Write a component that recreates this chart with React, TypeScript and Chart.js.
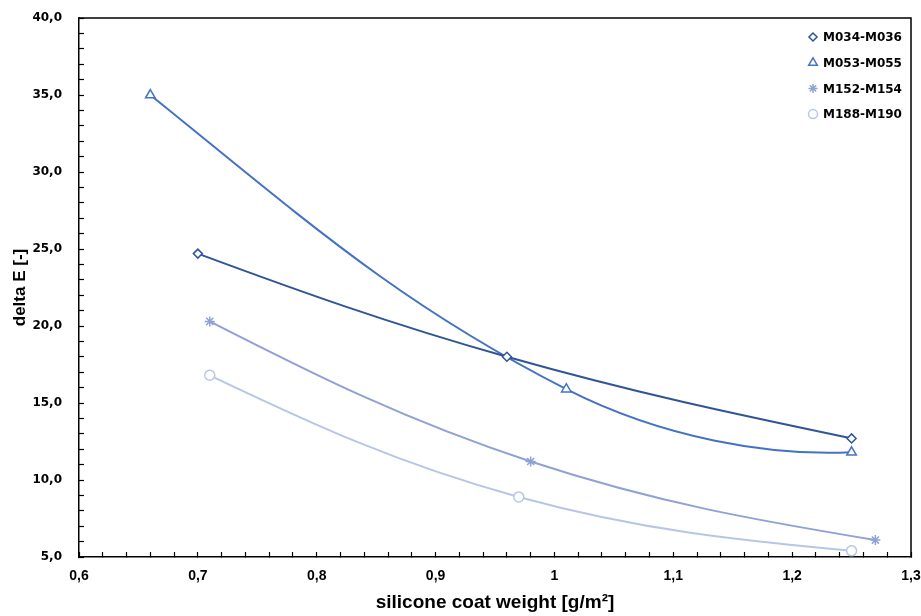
import React, { useEffect, useRef } from 'react';
import { Chart, registerables } from 'chart.js';
import { drawPoint } from 'chart.js/helpers';

Chart.register(...registerables);

// ---- data ----
const seriesNames = ['M034-M036', 'M053-M055', 'M152-M154', 'M188-M190'];
const x034 = [0.70, 0.96, 1.25];
const y034 = [24.7, 18.0, 12.7];
const x053 = [0.66, 1.01, 1.25];
const y053 = [35.0, 15.9, 11.8];
const x152 = [0.71, 0.98, 1.27];
const y152 = [20.3, 11.2, 6.1];
const x188 = [0.71, 0.97, 1.25];
const y188 = [16.8, 8.9, 5.4];

const xMin = 0.6;
const xMax = 1.3;
const xMinorStep = 0.02;
const xMajorStep = 0.1;
const yMin = 5;
const yMax = 40;
const yMinorStep = 1;
const yMajorStep = 5;

const xTitle = 'silicone coat weight [g/m²]';
const yTitle = 'delta E [-]';

// ---- styles ----
const colors = ['#2F5597', '#4472C4', '#8FA2D6', '#B8C6E6'];
const pointStyles = ['rectRot', 'triangle', 'star', 'circle'];
const pointRadii = [4.5, 5.5, 5, 5];

const toPts = (xs: number[], ys: number[]) => xs.map((x, i) => ({ x, y: ys[i] }));
const seriesData = [toPts(x034, y034), toPts(x053, y053), toPts(x152, y152), toPts(x188, y188)];

const isMultiple = (v: number, step: number) => Math.abs(v / step - Math.round(v / step)) < 1e-6;

// Office-style smoothing of the library's own line: adjust the bezier control points.
const SMOOTH_T = 0.38;
const END_CHORD_WEIGHT = 0.35;
const smoothPlugin = {
  id: 'officeSmooth',
  beforeDatasetDraw(chart: any, args: any) {
    const meta = args.meta;
    const line = meta.dataset;
    if (!line || !line.updateControlPoints) return;
    line.updateControlPoints(chart.chartArea, meta.iScale ? meta.iScale.axis : 'x');
    const p = meta.data;
    const n = p.length;
    if (n < 3) return;
    const t = SMOOTH_T;
    const w = END_CHORD_WEIGHT;
    for (let i = 1; i < n - 1; i++) {
      const d01 = Math.hypot(p[i].x - p[i - 1].x, p[i].y - p[i - 1].y);
      const d12 = Math.hypot(p[i + 1].x - p[i].x, p[i + 1].y - p[i].y);
      const fa = (t * d01) / (d01 + d12);
      const fb = (t * d12) / (d01 + d12);
      const dx = p[i + 1].x - p[i - 1].x;
      const dy = p[i + 1].y - p[i - 1].y;
      p[i].cp1x = p[i].x - fa * dx;
      p[i].cp1y = p[i].y - fa * dy;
      p[i].cp2x = p[i].x + fb * dx;
      p[i].cp2y = p[i].y + fb * dy;
    }
    {
      const px = (-3 * p[0].x + 4 * p[1].x - p[2].x) / 2;
      const py = (-3 * p[0].y + 4 * p[1].y - p[2].y) / 2;
      const cx = p[1].x - p[0].x;
      const cy = p[1].y - p[0].y;
      const tx = (1 - w) * px + w * cx;
      const ty = (1 - w) * py + w * cy;
      p[0].cp2x = p[0].x + tx / 3;
      p[0].cp2y = p[0].y + ty / 3;
      p[0].cp1x = p[0].x;
      p[0].cp1y = p[0].y;
    }
    {
      const L = n - 1;
      const px = (p[L - 2].x - 4 * p[L - 1].x + 3 * p[L].x) / 2;
      const py = (p[L - 2].y - 4 * p[L - 1].y + 3 * p[L].y) / 2;
      const cx = p[L].x - p[L - 1].x;
      const cy = p[L].y - p[L - 1].y;
      const tx = (1 - w) * px + w * cx;
      const ty = (1 - w) * py + w * cy;
      p[L].cp1x = p[L].x - tx / 3;
      p[L].cp1y = p[L].y - ty / 3;
      p[L].cp2x = p[L].x;
      p[L].cp2y = p[L].y;
    }
  },
};

const framePlugin = {
  id: 'frame',
  afterDraw(chart: any) {
    const { ctx, chartArea } = chart;
    ctx.save();
    ctx.strokeStyle = '#000';
    ctx.lineWidth = 1.5;
    ctx.beginPath();
    ctx.moveTo(chartArea.left, chartArea.top);
    ctx.lineTo(chartArea.right, chartArea.top);
    ctx.lineTo(chartArea.right, chartArea.bottom);
    ctx.stroke();
    ctx.restore();
  },
};

const legendPlugin = {
  id: 'insideLegend',
  afterDraw(chart: any) {
    const { ctx, chartArea } = chart;
    ctx.save();
    ctx.font = 'bold 12px "DejaVu Sans"';
    ctx.textBaseline = 'middle';
    ctx.textAlign = 'left';
    chart.data.datasets.forEach((ds: any, i: number) => {
      const y = chartArea.top + 19 + i * 25.7;
      const mx = chartArea.right - 98;
      ctx.fillStyle = '#fff';
      ctx.strokeStyle = ds.borderColor;
      ctx.lineWidth = 1.5;
      drawPoint(ctx, { pointStyle: ds.pointStyle, radius: ds.pointRadius * 0.9, borderWidth: 1.5, rotation: 0 } as any, mx, y);
      ctx.fillStyle = '#000';
      ctx.fillText(ds.label, mx + 10, y + 1);
    });
    ctx.restore();
  },
};

const zeroPadding = (s: any) => {
  s.paddingLeft = 0;
  s.paddingRight = 0;
  s.paddingTop = 0;
  s.paddingBottom = 0;
};

export default function App() {
  const ref = useRef<HTMLCanvasElement | null>(null);

  useEffect(() => {
    if (!ref.current) return;
    const chart = new Chart(ref.current, {
      type: 'line',
      data: {
        datasets: seriesNames.map((name, i) => ({
          label: name,
          data: seriesData[i],
          borderColor: colors[i],
          backgroundColor: '#fff',
          borderWidth: 2,
          pointStyle: pointStyles[i] as any,
          pointRadius: pointRadii[i],
          pointBorderWidth: 1.5,
          pointBackgroundColor: '#fff',
          pointBorderColor: colors[i],
          tension: 0.4,
          fill: false,
        })),
      },
      options: {
        animation: false,
        responsive: false,
        devicePixelRatio: 1,
        layout: { padding: { left: 0, right: 10, top: 18, bottom: 0 } },
        plugins: {
          legend: { display: false },
          tooltip: { enabled: false },
        },
        scales: {
          x: {
            type: 'linear',
            min: xMin,
            max: xMax,
            ticks: {
              stepSize: xMinorStep,
              autoSkip: false,
              maxRotation: 0,
              minRotation: 0,
              padding: 16,
              color: '#000',
              font: { family: '"Liberation Sans"', size: 14, weight: 'bold' },
              callback: (v: any) => (isMultiple(Number(v), xMajorStep) ? String(Math.round(Number(v) * 10) / 10).replace('.', ',') : ''),
            },
            grid: { display: true, drawOnChartArea: false, drawTicks: true, tickLength: -5, tickColor: '#000', tickWidth: 1.2 },
            border: { display: true, color: '#000', width: 1.5 },
            title: {
              display: true,
              text: xTitle,
              color: '#000',
              font: { family: '"Liberation Sans"', size: 19, weight: 'bold' },
              padding: { top: 0, bottom: 2 },
            },
            afterFit: (s: any) => {
              s.height = 59;
              zeroPadding(s);
            },
          },
          y: {
            type: 'linear',
            min: yMin,
            max: yMax,
            ticks: {
              stepSize: yMinorStep,
              autoSkip: false,
              padding: 22,
              color: '#000',
              font: { family: '"DejaVu Sans"', size: 12, weight: 'bold' },
              callback: (v: any) => (isMultiple(Number(v), yMajorStep) ? Number(v).toFixed(1).replace('.', ',') : ''),
            },
            grid: { display: true, drawOnChartArea: false, drawTicks: true, tickLength: -5, tickColor: '#000', tickWidth: 1.2 },
            border: { display: true, color: '#000', width: 1.5 },
            title: {
              display: true,
              text: yTitle,
              color: '#000',
              font: { family: '"Liberation Sans"', size: 17, weight: 'bold' },
              padding: { top: 10, bottom: 0 },
            },
            afterFit: (s: any) => {
              s.width = 79;
              zeroPadding(s);
            },
          },
        },
      },
      plugins: [smoothPlugin, framePlugin, legendPlugin],
    });
    return () => chart.destroy();
  }, []);

  return (
    <div style={{ position: 'fixed', left: 0, top: 0, width: 921, height: 616, background: '#fff' }}>
      <canvas ref={ref} width={921} height={616} style={{ display: 'block' }} />
    </div>
  );
}
